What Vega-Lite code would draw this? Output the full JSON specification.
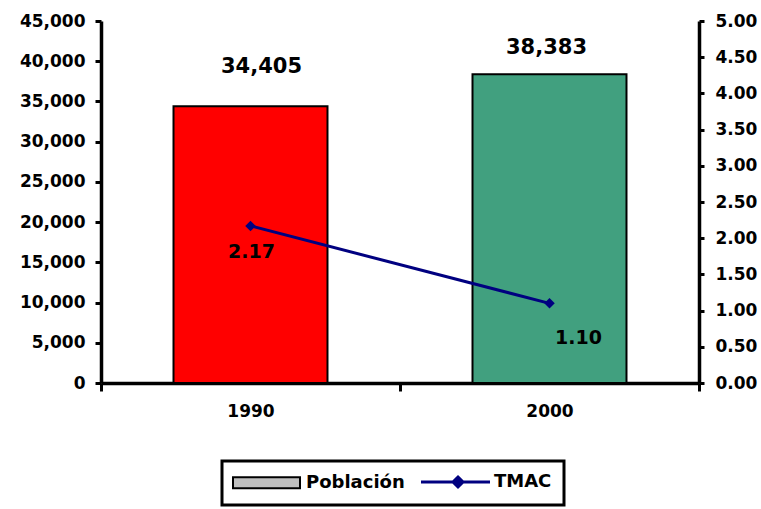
{
  "$schema": "https://vega.github.io/schema/vega-lite/v6.json",
  "width": 598,
  "height": 362,
  "autosize": {"type": "none"},
  "padding": {"left": 101, "top": 21, "right": 62, "bottom": 126},
  "background": "white",
  "config": {
    "view": {"stroke": null},
    "font": "DejaVu Sans",
    "axis": {
      "domainColor": "black",
      "domainWidth": 3.5,
      "tickColor": "black",
      "tickWidth": 3,
      "labelColor": "black",
      "labelFont": "DejaVu Sans",
      "labelFontWeight": "bold",
      "labelFontSize": 17,
      "grid": false,
      "title": null
    },
    "legend": {
      "orient": "none",
      "legendX": 121,
      "legendY": 440,
      "direction": "horizontal",
      "fillColor": "white",
      "strokeColor": "black",
      "padding": 12,
      "labelFont": "DejaVu Sans",
      "labelFontSize": 18,
      "labelFontWeight": "bold",
      "labelColor": "black",
      "symbolSize": 400,
      "labelOffset": 54,
      "columnPadding": 10
    }
  },
  "data": {
    "values": [
      {"year": "1990", "poblacion": 34405, "tmac": 2.17},
      {"year": "2000", "poblacion": 38383, "tmac": 1.10}
    ]
  },
  "encoding": {
    "x": {
      "field": "year",
      "type": "nominal",
      "scale": {"paddingInner": 0, "paddingOuter": 0},
      "axis": {
        "labelAngle": 0,
        "tickBand": "extent",
        "tickSize": 8,
        "labelPadding": 12
      }
    }
  },
  "layer": [
    {
      "encoding": {
        "y": {
          "field": "poblacion",
          "type": "quantitative",
          "scale": {"domain": [0, 45000], "nice": false},
          "axis": {
            "values": [0, 5000, 10000, 15000, 20000, 25000, 30000, 35000, 40000, 45000],
            "format": ",.0f",
            "tickSize": 6,
            "labelPadding": 10
          }
        }
      },
      "layer": [
        {
          "mark": {"type": "bar", "width": {"band": 0.515}, "stroke": "black", "strokeWidth": 2},
          "encoding": {
            "color": {
              "field": "year",
              "type": "nominal",
              "scale": {"domain": ["1990", "2000"], "range": ["#ff0000", "#41a07f"]},
              "legend": null
            }
          }
        },
        {
          "transform": [{"filter": "datum.year === '1990'"}],
          "mark": {"type": "text", "font": "DejaVu Sans", "fontSize": 21, "fontWeight": "bold", "color": "black", "baseline": "middle", "dx": 11, "dy": -39},
          "encoding": {"text": {"field": "poblacion", "type": "quantitative", "format": ","}}
        },
        {
          "transform": [{"filter": "datum.year === '2000'"}],
          "mark": {"type": "text", "font": "DejaVu Sans", "fontSize": 21, "fontWeight": "bold", "color": "black", "baseline": "middle", "dx": -3, "dy": -26},
          "encoding": {"text": {"field": "poblacion", "type": "quantitative", "format": ","}}
        }
      ]
    },
    {
      "encoding": {
        "y": {
          "field": "tmac",
          "type": "quantitative",
          "scale": {"domain": [0, 5], "nice": false},
          "axis": {
            "orient": "right",
            "values": [0, 0.5, 1, 1.5, 2, 2.5, 3, 3.5, 4, 4.5, 5],
            "format": ".2f",
            "tickSize": 5,
            "labelPadding": 11
          }
        }
      },
      "layer": [
        {
          "mark": {"type": "line", "strokeWidth": 3},
          "encoding": {
            "stroke": {
              "datum": "TMAC",
              "scale": {"domain": ["Población", "TMAC"], "range": ["#000000", "#000080"]},
              "legend": {
                "title": null,
                "encode": {
                  "legend": {"update": {"strokeWidth": {"value": 3}}},
                  "symbols": {
                    "update": {
                      "shape": {"signal": "datum.value === 'TMAC' ? 'M-1,0H5.9M2.7,-0.5L3.2,0L2.7,0.5L2.2,0Z' : 'M-1,-0.55H5.7V0.55H-1Z'"},
                      "strokeWidth": {"signal": "datum.value === 'TMAC' ? 3 : 2"},
                      "opacity": {"value": 1},
                      "fillOpacity": {"value": 1},
                      "strokeOpacity": {"value": 1}
                    }
                  }
                }
              }
            }
          }
        },
        {
          "mark": {"type": "point", "shape": "diamond", "filled": true, "size": 110, "opacity": 1},
          "encoding": {
            "fill": {
              "datum": "TMAC",
              "scale": {"domain": ["Población", "TMAC"], "range": ["#c0c0c0", "#000080"]},
              "legend": {
                "title": null,
                "encode": {
                  "legend": {"update": {"strokeWidth": {"value": 3}}},
                  "symbols": {
                    "update": {
                      "shape": {"signal": "datum.value === 'TMAC' ? 'M-1,0H5.9M2.7,-0.5L3.2,0L2.7,0.5L2.2,0Z' : 'M-1,-0.55H5.7V0.55H-1Z'"},
                      "strokeWidth": {"signal": "datum.value === 'TMAC' ? 3 : 2"},
                      "opacity": {"value": 1},
                      "fillOpacity": {"value": 1},
                      "strokeOpacity": {"value": 1}
                    }
                  }
                }
              }
            }
          }
        },
        {
          "transform": [{"filter": "datum.year === '1990'"}],
          "mark": {"type": "text", "font": "DejaVu Sans", "fontSize": 19, "fontWeight": "bold", "baseline": "middle", "dx": 1, "dy": 26},
          "encoding": {"text": {"field": "tmac", "type": "quantitative", "format": ".2f"}, "color": {"value": "black"}}
        },
        {
          "transform": [{"filter": "datum.year === '2000'"}],
          "mark": {"type": "text", "font": "DejaVu Sans", "fontSize": 19, "fontWeight": "bold", "baseline": "middle", "dx": 29, "dy": 35},
          "encoding": {"text": {"field": "tmac", "type": "quantitative", "format": ".2f"}, "color": {"value": "black"}}
        }
      ]
    }
  ],
  "resolve": {"scale": {"y": "independent"}}
}
